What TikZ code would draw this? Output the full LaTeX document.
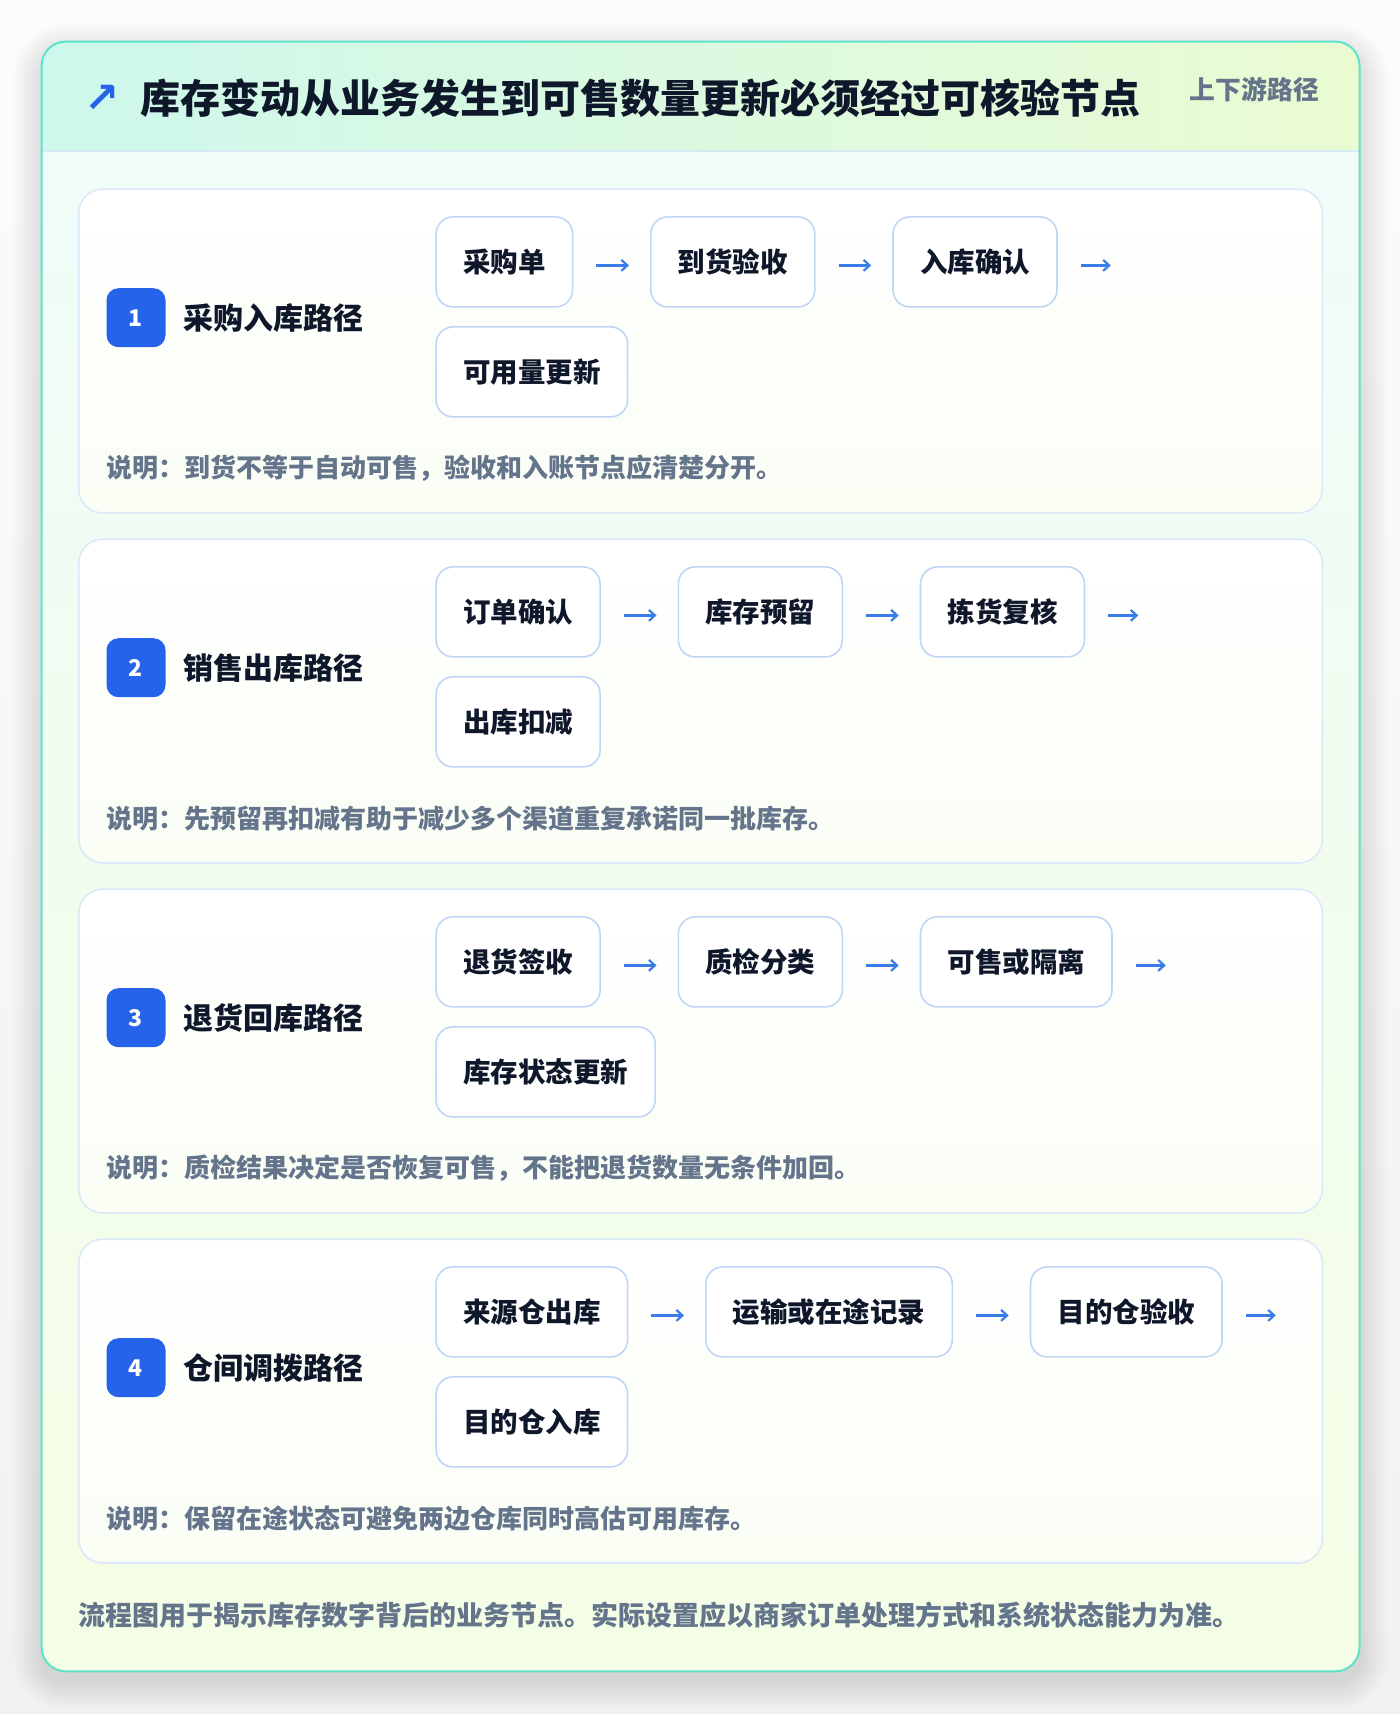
\documentclass[tikz,border=0pt]{standalone}
\usepackage{fontspec}
\setmainfont{Noto Sans CJK SC}
\newfontfamily\djv{DejaVu Sans}
\usetikzlibrary{arrows.meta,positioning}
\definecolor{teal}{HTML}{5EE3CB}
\definecolor{headL}{HTML}{CDF8EC}
\definecolor{headR}{HTML}{EAFBD2}
\definecolor{bodyTop}{HTML}{EFFCF8}
\definecolor{bodyBot}{HTML}{F4FDE5}
\definecolor{cardB}{HTML}{DCE9F8}
\definecolor{boxB}{HTML}{BFD7F5}
\definecolor{badge}{HTML}{2563EB}
\definecolor{ink}{HTML}{0F172A}
\definecolor{muted}{HTML}{64748B}
\definecolor{arrowc}{HTML}{3B7DE8}
\definecolor{headline}{HTML}{D6E9F5}
\tikzset{
  stepbox/.style={draw=boxB, line width=1.6pt, fill=white, rounded corners=17pt,
    minimum height=90pt, inner xsep=27pt, text=ink,
    font=\bfseries\fontsize{27.5}{30}\selectfont},
  sectioncard/.style={draw=cardB, line width=1.6pt, rounded corners=24pt,
    top color=white, bottom color=white!60!bodyBot},
  badgebox/.style={fill=badge, rounded corners=12pt, minimum size=59pt, inner sep=0pt,
    text=white, font=\bfseries\fontsize{23}{26}\selectfont},
  pathlabel/.style={anchor=west, inner sep=0pt, text=ink, font=\bfseries\fontsize{30}{34}\selectfont},
  notetext/.style={anchor=west, inner sep=0pt, text=muted, font=\bfseries\fontsize{26}{30}\selectfont},
  flow/.style={draw=arrowc, line width=2.2pt, -{Straight Barb[length=6pt,width=11pt,line width=2.2pt]},
    shorten <=23pt, shorten >=21pt},
}
\newcommand{\softshadow}[6]{% x1 y1 x2 y2 radius yoff
  \foreach \i in {1,...,14}{%
    \fill[black, opacity=0.009, rounded corners=#5+2*\i]
      ({#1-2*\i},{#2-2*\i+#6}) rectangle ({#3+2*\i},{#4+2*\i+#6});}}
\newcommand{\pathcard}[8]{%
  \begin{scope}[shift={(0,#2)}]
    \path[sectioncard] (78.75,0) rectangle (1322.3,323.75);
    \node[badgebox] (b#1) at (136,128.5) {#1};
    \node[pathlabel] (l#1) at (183.75,129) {#3};
    \node[stepbox, anchor=west] (p#1a) at (435.3,72.7) {#4};
    \node[stepbox, right=76.6pt of p#1a] (p#1b) {#5};
    \node[stepbox, right=76.6pt of p#1b] (p#1c) {#6};
    \node[stepbox, anchor=west] (p#1d) at (435.3,182.7) {#7};
    \coordinate (p#1e) at ([xshift=74pt]p#1c.east);
    \draw[flow] ([yshift=-3.5pt]p#1a.east) -- ([yshift=-3.5pt]p#1b.west);
    \draw[flow] ([yshift=-3.5pt]p#1b.east) -- ([yshift=-3.5pt]p#1c.west);
    \draw[flow] ([yshift=-3.5pt]p#1c.east) -- ([yshift=-3.5pt]p#1e);
    \node[notetext] (n#1) at (106,279) {#8};
  \end{scope}}
\begin{document}
\begin{tikzpicture}[x=1pt,y=-1pt]
  \useasboundingbox (0,0) rectangle (1400,1714);
  \shade[top color=white!60!gray!6, bottom color=gray!11] (0,0) rectangle (1400,1714);
  % outer card shadow
  \softshadow{41.6}{41.6}{1359.5}{1671.3}{24}{10}
  % outer card
  \path[fill=bodyTop, rounded corners=24pt] (41.6,41.6) rectangle (1359.5,1671.3);
  \begin{scope}
    \clip[rounded corners=24pt] (41.6,41.6) rectangle (1359.5,1671.3);
    \shade[top color=bodyTop, bottom color=bodyBot] (41.6,151) rectangle (1359.5,1671.3);
    \shade[left color=headL, right color=headR] (41.6,41.6) rectangle (1359.5,151);
    \draw[headline, line width=2pt] (41.6,151) -- (1359.5,151);
  \end{scope}
  \draw[teal, line width=2pt, rounded corners=24pt] (41.6,41.6) rectangle (1359.5,1671.3);
  % header
  \node[text=badge, font=\djv\bfseries\fontsize{42}{44}\selectfont, inner sep=0pt] (icon) at (102,99) {↗};
  \node[anchor=west, inner sep=0pt, text=ink, font=\bfseries\fontsize{40}{46}\selectfont] (title) at (140,98) {库存变动从业务发生到可售数量更新必须经过可核验节点};
  \node[anchor=east, inner sep=0pt, text=muted, font=\bfseries\fontsize{25.8}{30}\selectfont] (tag) at (1319,90) {上下游路径};
  % cards
  \pathcard{1}{189.2}{采购入库路径}{采购单}{到货验收}{入库确认}{可用量更新}{说明：到货不等于自动可售，验收和入账节点应清楚分开。}
  \pathcard{2}{539.2}{销售出库路径}{订单确认}{库存预留}{拣货复核}{出库扣减}{说明：先预留再扣减有助于减少多个渠道重复承诺同一批库存。}
  \pathcard{3}{889.2}{退货回库路径}{退货签收}{质检分类}{可售或隔离}{库存状态更新}{说明：质检结果决定是否恢复可售，不能把退货数量无条件加回。}
  \pathcard{4}{1239.2}{仓间调拨路径}{来源仓出库}{运输或在途记录}{目的仓验收}{目的仓入库}{说明：保留在途状态可避免两边仓库同时高估可用库存。}
  % footer
  \node[anchor=west, inner sep=0pt, text=muted, font=\bfseries\fontsize{27}{30}\selectfont] (foot) at (78.75,1615.5) {流程图用于揭示库存数字背后的业务节点。实际设置应以商家订单处理方式和系统状态能力为准。};
\end{tikzpicture}
\end{document}
